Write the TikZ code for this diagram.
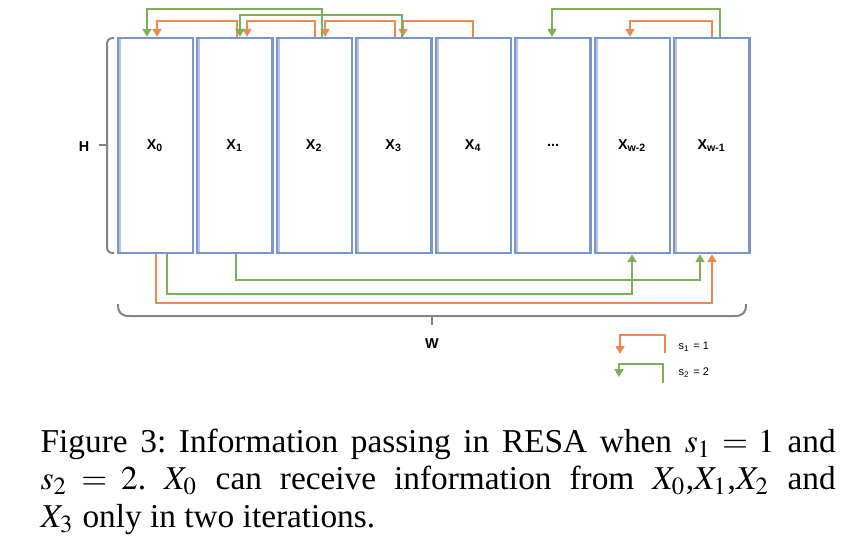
\documentclass[tikz,border=0pt]{standalone}
\usepackage{mathptmx}
\usepackage{fontspec}
\setmainfont{Liberation Serif}
\newfontfamily\lsans{Liberation Sans}
\usetikzlibrary{calc,arrows.meta}
\definecolor{boxblue}{HTML}{7A94CC}
\definecolor{boxlite}{HTML}{B4C5E8}
\definecolor{org}{HTML}{EC8A4F}
\definecolor{grn}{HTML}{7DB05A}
\definecolor{brc}{HTML}{858585}
\begin{document}
\frenchspacing
\begin{tikzpicture}[x=0.3pt,y=-0.3pt,
  cell/.style={draw=boxblue, line width=0.7pt, fill=white, minimum width=22.5pt, minimum height=64.5pt, inner sep=0pt, font=\lsans\bfseries\fontsize{4.3}{5}\selectfont},
  orgline/.style={draw=org, line width=0.65pt},
  grnline/.style={draw=grn, line width=0.65pt},
  arrtip/.style={-{Triangle[width=2.7pt,length=2.4pt]}},
  bracestyle/.style={draw=brc, line width=0.6pt},
  lbl/.style={font=\lsans\bfseries\fontsize{4.3}{5}\selectfont, inner sep=0pt},
  legtext/.style={font=\lsans\fontsize{3.3}{4}\selectfont, inner sep=0pt, anchor=west},
  captext/.style={font=\frenchspacing\fontsize{10}{11.25}\selectfont, text width=238.5pt, align=justify, inner sep=0pt, anchor=north west}]
\useasboundingbox (0,0) rectangle (846,541);
\fill[white] (0,0) rectangle (846,541);

% cells
\node[cell] (x0) at (155.5,145.5) {X\textsubscript{0}};
\node[cell] (x1) at (235,145.5) {X\textsubscript{1}};
\node[cell] (x2) at (314.5,145.5) {X\textsubscript{2}};
\node[cell] (x3) at (394,145.5) {X\textsubscript{3}};
\node[cell] (x4) at (473.5,145.5) {X\textsubscript{4}};
\node[cell] (x5) at (553,145.5) {...};
\node[cell] (x6) at (632.5,145.5) {X\textsubscript{w-2}};
\node[cell] (x7) at (712,145.5) {X\textsubscript{w-1}};
\foreach \n in {x0,x1,x2,x3,x4,x5,x6,x7}
  \draw[boxlite, line width=0.6pt] ($(\n.north west)+(3,2)$) -- ($(\n.south west)+(3,-2)$);

% top connectors, s1 = 1 (orange)
\draw[orgline,arrtip] ($(x1.north)+(2,0)$) -- ++(0,-16) -| ($(x0.north)+(1.5,0)$);
\draw[orgline,arrtip] ($(x2.north)+(0.5,0)$) -- ++(0,-16) -| ($(x1.north)+(12,0)$);
\draw[orgline,arrtip] ($(x3.north)+(1,0)$) -- ++(0,-16) -| ($(x2.north)+(10.5,0)$);
\draw[orgline,arrtip] ($(x4.north)+(-0.5,0)$) -- ++(0,-16) -| ($(x3.north)+(9,0)$);
\draw[orgline,arrtip] ($(x7.north)+(0,0)$) -- ++(0,-16) -| ($(x6.north)+(-2.5,0)$);
% top connectors, s2 = 2 (green)
\draw[grnline,arrtip] ($(x2.north)+(7.5,0)$) -- ++(0,-28) -| ($(x0.north)+(-8.5,0)$);
\draw[grnline,arrtip] ($(x3.north)+(8,0)$) -- ++(0,-22) -| ($(x1.north)+(5,0)$);
\draw[grnline,arrtip] ($(x7.north)+(8,0)$) -- ++(0,-28) -| ($(x5.north)+(-1,0)$);

% bottom connectors (wrap-around)
\draw[orgline,arrtip] ($(x0.south)+(0.5,0)$) -- ++(0,49) -| ($(x7.south)+(0,0)$);
\draw[grnline,arrtip] ($(x0.south)+(11.5,0)$) -- ++(0,40) -| ($(x6.south)+(-0.5,0)$);
\draw[grnline,arrtip] ($(x1.south)+(1,0)$) -- ++(0,26) -| ($(x7.south)+(-12,0)$);

% braces
\draw[bracestyle] (114,38) .. controls (108,38) and (107,40) .. (107,46) -- (107,245) .. controls (107,251) and (108,253) .. (114,253);
\coordinate (hb) at (107,145);
\draw[bracestyle] (hb) -- ++(-8,0);
\node[lbl] (h) at (84,147) {H};
\draw[bracestyle] (118,304) .. controls (118,313) and (121,316) .. (130,316) -- (734,316) .. controls (743,316) and (746,313) .. (746,304);
\coordinate (wb) at (432,316);
\draw[bracestyle] (wb) -- ++(0,9);
\node[lbl] (w) at (432,344) {W};

% legend
\coordinate (lo1) at (665,353);
\coordinate (lo2) at (620,354);
\draw[orgline,arrtip] (lo1) |- (lo2 |- 0,335) -- (lo2);
\node[legtext] (lt1) at (678,347) {s\textsubscript{1} = 1};
\coordinate (lg1) at (663,383);
\coordinate (lg2) at (619,377);
\draw[grnline,arrtip] (lg1) |- (lg2 |- 0,364) -- (lg2);
\node[legtext] (lt2) at (678,373) {s\textsubscript{2} = 2};

% caption
\node[captext] (cap) at (40,428) {Figure 3: Information passing in RESA when $s_1 = 1$ and\linebreak $s_2 = 2$. $X_0$ can receive information from $X_0$,$X_1$,$X_2$ and\linebreak $X_3$ only in two iterations.};
\end{tikzpicture}
\end{document}
